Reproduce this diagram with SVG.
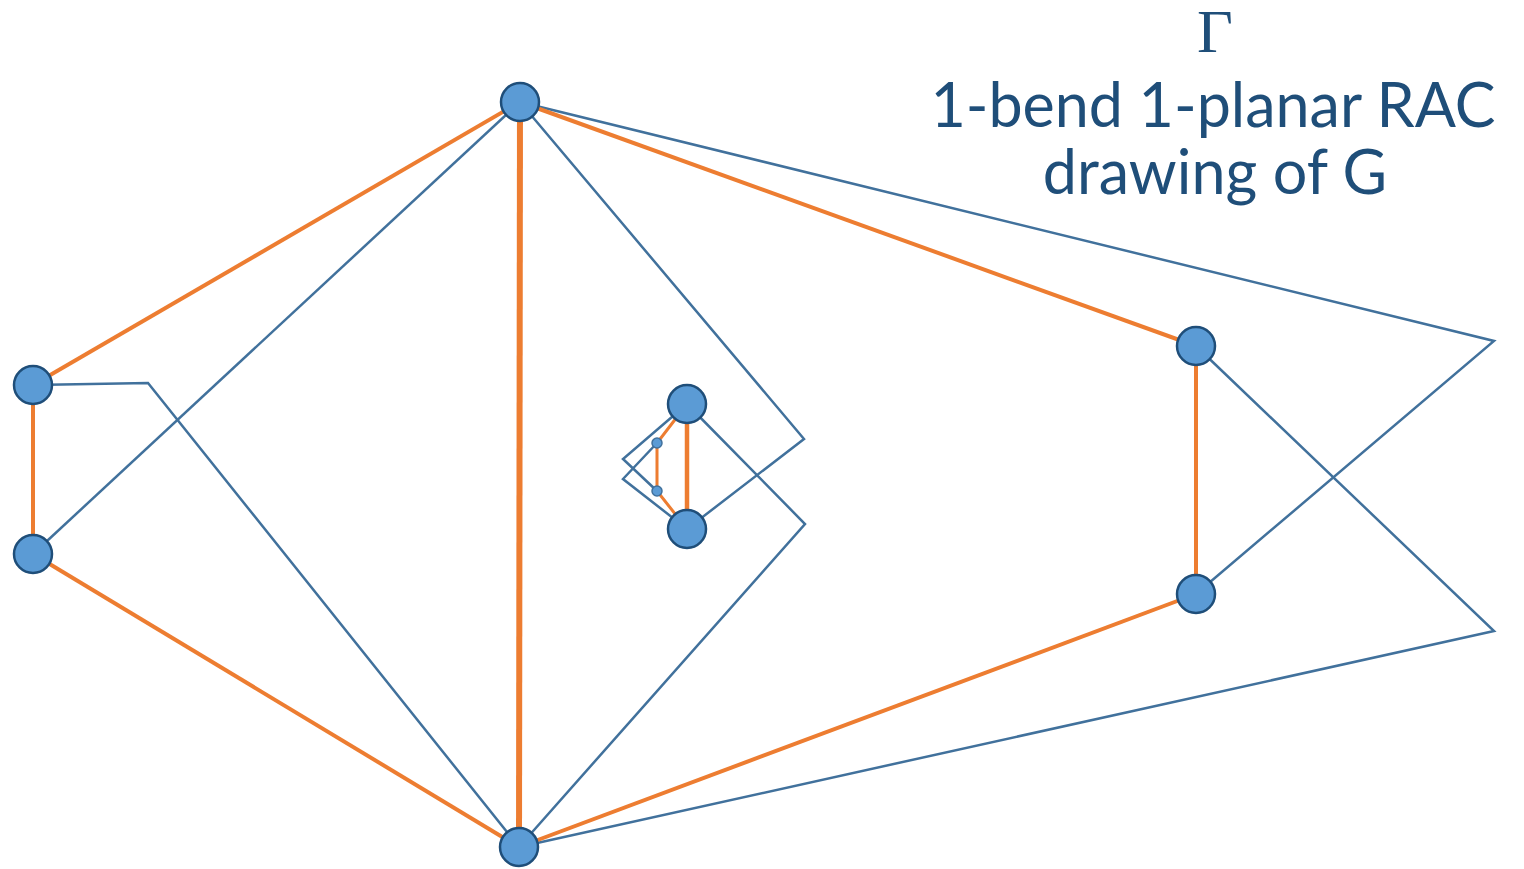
<svg xmlns="http://www.w3.org/2000/svg" width="1524" height="869" viewBox="0 0 1524 869">
<style>
.b{fill:none;stroke:#41719C;stroke-width:2.5;stroke-linejoin:miter}
.o{fill:none;stroke:#ED7D31;stroke-width:4}
.n{fill:#5B9BD5;stroke:#1F4E79;stroke-width:2.5}
.s{fill:#5B9BD5;stroke:#41719C;stroke-width:1.5}
.t{font-family:Lato,"Noto Sans",sans-serif;font-size:61px;fill:#1F4E79;text-anchor:middle}
</style>
<rect width="1524" height="869" fill="#ffffff"/>
<g id="connectors">
<polyline class="b" points="520,102 33,554"/>
<polyline class="b" points="520,102 804,439 687,529"/>
<polyline class="b" points="520,102 1494,341 1196,594"/>
<polyline class="b" points="33,385 148,383 519,847"/>
<polyline class="b" points="519,847 805,524 687,404"/>
<polyline class="b" points="519,847 1494,631 1196,346"/>
<polyline class="b" points="687,404 623,459 657,491"/>
<polyline class="b" points="687,529 623,479 657,443"/>
<line class="o" x1="520" y1="102" x2="33" y2="385"/>
<line class="o" x1="520" y1="102" x2="519" y2="847" style="stroke-width:6"/>
<line class="o" x1="520" y1="102" x2="1196" y2="346"/>
<line class="o" x1="33" y1="385" x2="33" y2="554"/>
<line class="o" x1="33" y1="554" x2="519" y2="847"/>
<line class="o" x1="519" y1="847" x2="1196" y2="594"/>
<line class="o" x1="1196" y1="346" x2="1196" y2="594"/>
<line class="o" x1="687" y1="404" x2="687" y2="529" style="stroke-width:4.5"/>
<polyline class="o" points="687,404 657,443 657,491 687,529" style="stroke-width:3"/>
</g>
<g id="node-T"><circle class="n" cx="520" cy="102" r="19"/></g>
<g id="node-B"><circle class="n" cx="519" cy="847" r="19"/></g>
<g id="node-L1"><circle class="n" cx="33" cy="385" r="19"/></g>
<g id="node-L2"><circle class="n" cx="33" cy="554" r="19"/></g>
<g id="node-R1"><circle class="n" cx="1196" cy="346" r="19"/></g>
<g id="node-R2"><circle class="n" cx="1196" cy="594" r="19"/></g>
<g id="node-C1"><circle class="n" cx="687" cy="404" r="19"/></g>
<g id="node-C2"><circle class="n" cx="687" cy="529" r="19"/></g>
<g id="node-S1"><circle class="s" cx="657" cy="443" r="5"/></g>
<g id="node-S2"><circle class="s" cx="657" cy="491" r="5"/></g>
<g id="label">
<text x="1215" y="52" style="font-family:'Liberation Serif',serif;font-size:62px;fill:#1F4E79;text-anchor:middle">Γ</text>
<text class="t" x="1213" y="127">1-bend 1-planar RAC</text>
<text class="t" x="1215" y="194">drawing of G</text>
</g>
</svg>
